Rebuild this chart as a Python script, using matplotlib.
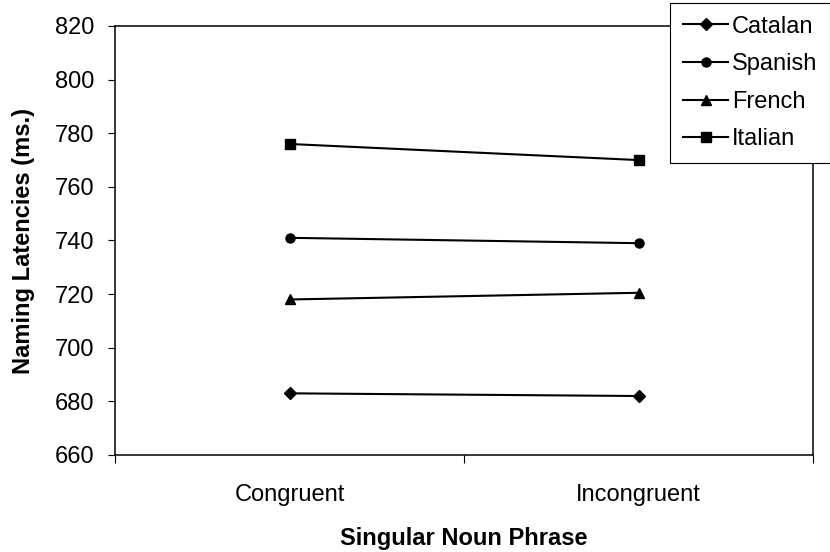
import matplotlib.pyplot as plt

plt.rcParams['font.family'] = ['Liberation Sans', 'DejaVu Sans']

# condições e latências médias (ms) por língua
condicoes = ["Congruent", "Incongruent"]
catalan = [683, 682]
spanish = [741, 739]
french = [718, 720.5]
italian = [776, 770]

series = [
    ("Catalan", catalan, "D"),
    ("Spanish", spanish, "o"),
    ("French", french, "^"),
    ("Italian", italian, "s"),
]
y_ticks = list(range(660, 821, 20))

fig = plt.figure(figsize=(8.3, 5.52), dpi=100)
ax = fig.add_axes([115 / 830, 97 / 552, 698 / 830, 429 / 552])

pos = [0.5, 1.5]
for nome, valores, marcador in series:
    ax.plot(pos, valores, color='black', linewidth=1.5, marker=marcador,
            markersize=6.5 if marcador != "D" else 6, label=nome)

ax.set_xlim(0, 2)
ax.set_ylim(660, 820)
ax.set_yticks(y_ticks)
ax.tick_params(axis='y', labelsize=17, length=5, width=0.8, pad=10)

# rótulos das categorias no meio, tracinhos nas divisões
ax.set_xticks(pos)
ax.set_xticklabels(condicoes, fontsize=17)
ax.tick_params(axis='x', which='major', length=0, pad=21)
ax.set_xticks([0, 1, 2], minor=True)
ax.tick_params(axis='x', which='minor', length=6, width=0.8)

for lado in ax.spines.values():
    lado.set_linewidth(1.1)

ax.set_xlabel("Singular Noun Phrase", fontsize=17, fontweight='bold', labelpad=15)
ax.set_ylabel("Naming Latencies (ms.)", fontsize=17, fontweight='bold', labelpad=14)

leg = fig.legend(loc='upper right', bbox_to_anchor=(1.0, 0.995), fontsize=17,
                 fancybox=False, framealpha=1, edgecolor='black', handlelength=1.9,
                 labelspacing=0.66, borderpad=0.55, handletextpad=0.15, borderaxespad=0)
leg.get_frame().set_linewidth(0.8)

fig.savefig("out.png", dpi=100)
